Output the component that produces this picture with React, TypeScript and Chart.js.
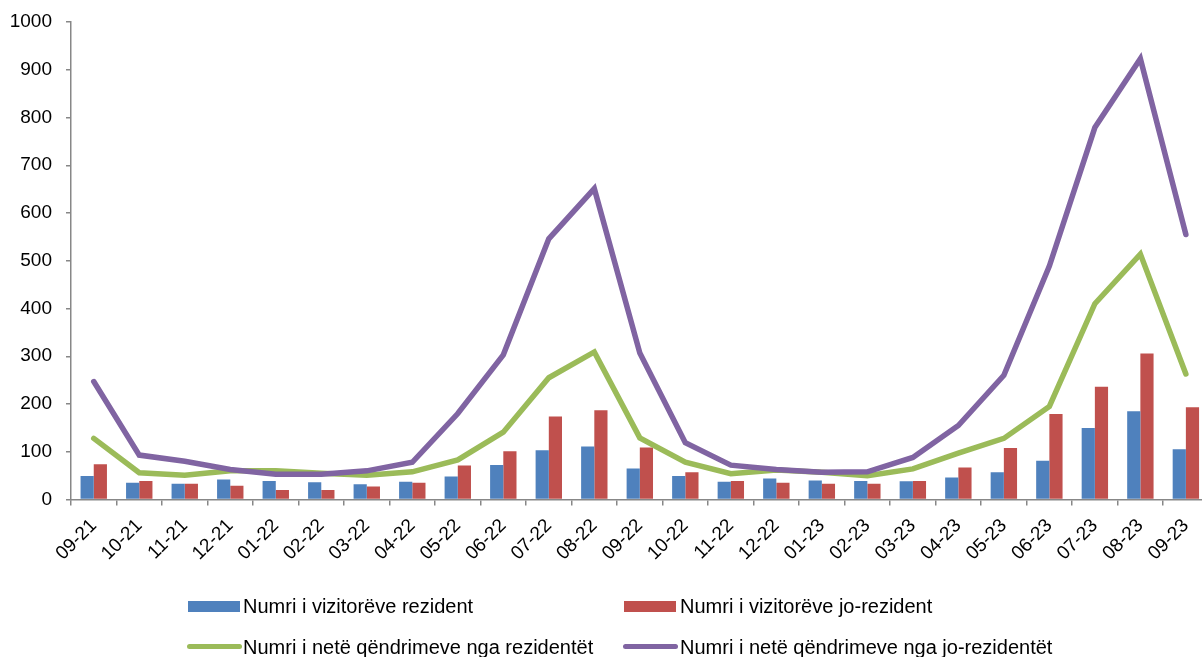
import React, { useEffect, useRef } from "react";
import { Chart, registerables } from "chart.js";

Chart.register(...registerables);

const categories = [
  "09-21", "10-21", "11-21", "12-21", "01-22", "02-22", "03-22", "04-22", "05-22",
  "06-22", "07-22", "08-22", "09-22", "10-22", "11-22", "12-22", "01-23", "02-23",
  "03-23", "04-23", "05-23", "06-23", "07-23", "08-23", "09-23",
];

const residentVisitors = [49, 35, 33, 42, 39, 36, 32, 37, 48, 72, 103, 111, 65, 49, 37, 44, 40, 39, 38, 46, 57, 81, 150, 185, 105];
const nonResidentVisitors = [74, 39, 33, 29, 20, 20, 27, 35, 71, 101, 174, 187, 109, 57, 39, 35, 33, 33, 39, 67, 108, 179, 236, 306, 193];
const residentNights = [128, 56, 51, 60, 60, 55, 51, 58, 83, 141, 255, 309, 129, 78, 54, 62, 57, 50, 64, 97, 128, 195, 410, 514, 263];
const nonResidentNights = [247, 93, 80, 63, 53, 53, 60, 78, 180, 303, 546, 651, 307, 119, 72, 63, 57, 58, 88, 155, 260, 489, 779, 923, 555];

const seriesNames = [
  "Numri i vizitorëve rezident",
  "Numri i vizitorëve jo-rezident",
  "Numri i netë qëndrimeve nga rezidentët",
  "Numri i netë qëndrimeve nga jo-rezidentët",
];

const BLUE = "#4F81BD";
const RED = "#C0504D";
const GREEN = "#9BBB59";
const PURPLE = "#8064A2";
const AXIS = "#878787";
const FONT = "'Liberation Sans', Arial, sans-serif";

export default function App() {
  const canvasRef = useRef<HTMLCanvasElement | null>(null);

  useEffect(() => {
    const canvas = canvasRef.current;
    if (!canvas) return;
    const chart = new Chart(canvas, {
      type: "bar",
      data: {
        labels: categories,
        datasets: [
          {
            type: "line",
            label: seriesNames[3],
            data: nonResidentNights,
            borderColor: PURPLE,
            backgroundColor: PURPLE,
            borderWidth: 5.5,
            pointRadius: 0,
            tension: 0,
            borderCapStyle: "round",
            order: 0,
          },
          {
            type: "line",
            label: seriesNames[2],
            data: residentNights,
            borderColor: GREEN,
            backgroundColor: GREEN,
            borderWidth: 5.5,
            pointRadius: 0,
            tension: 0,
            borderCapStyle: "round",
            order: 0,
          },
          {
            type: "bar",
            label: seriesNames[0],
            data: residentVisitors,
            backgroundColor: BLUE,
            borderWidth: 0,
            barPercentage: 1,
            categoryPercentage: 0.58,
            order: 1,
          },
          {
            type: "bar",
            label: seriesNames[1],
            data: nonResidentVisitors,
            backgroundColor: RED,
            borderWidth: 0,
            barPercentage: 1,
            categoryPercentage: 0.58,
            order: 1,
          },
        ],
      },
      options: {
        animation: false,
        responsive: true,
        maintainAspectRatio: false,
        layout: { padding: { top: 22, left: 0, right: 0, bottom: 0 } },
        plugins: {
          legend: { display: false },
          tooltip: { enabled: false },
        },
        scales: {
          x: {
            offset: true,
            grid: {
              offset: true,
              drawOnChartArea: false,
              drawTicks: true,
              tickLength: 6,
              color: AXIS,
              lineWidth: 1.5,
            },
            border: { color: AXIS, width: 1.5 },
            ticks: {
              color: "#000",
              font: { family: FONT, size: 19 },
              minRotation: 45,
              maxRotation: 45,
              autoSkip: false,
              padding: 9,
            },
            afterFit: (scale: any) => {
              scale.height = 157.5;
            },
          },
          y: {
            min: 0,
            max: 1000,
            ticks: {
              stepSize: 100,
              color: "#000",
              font: { family: FONT, size: 19 },
              padding: 14,
              callback: (value: any) => String(value),
            },
            grid: {
              drawOnChartArea: false,
              drawTicks: true,
              tickLength: 5,
              color: AXIS,
              lineWidth: 1.5,
            },
            border: { color: AXIS, width: 1.5 },
            afterFit: (scale: any) => {
              scale.width = 71;
              scale.paddingTop = 0;
              scale.paddingBottom = 0;
            },
          },
        },
      },
    });
    return () => chart.destroy();
  }, []);

  const legendText: React.CSSProperties = {
    position: "absolute",
    fontFamily: FONT,
    fontSize: 20,
    color: "#000",
    lineHeight: "22px",
    whiteSpace: "nowrap",
  };

  return (
    <div
      style={{
        position: "fixed",
        left: 0,
        top: 0,
        width: 1202,
        height: 657,
        overflow: "hidden",
        background: "#fff",
      }}
    >
      <div style={{ position: "absolute", left: 0, top: 0, width: 1211, height: 657 }}>
        <canvas ref={canvasRef} />
      </div>
      <div style={{ position: "absolute", left: 188, top: 601, width: 52, height: 11, background: BLUE }} />
      <div style={{ ...legendText, left: 243, top: 595 }}>{seriesNames[0]}</div>
      <div style={{ position: "absolute", left: 624, top: 601, width: 52, height: 11, background: RED }} />
      <div style={{ ...legendText, left: 680, top: 595 }}>{seriesNames[1]}</div>
      <div style={{ position: "absolute", left: 187, top: 644, width: 55, height: 5, borderRadius: 3, background: GREEN }} />
      <div style={{ ...legendText, left: 243, top: 636 }}>{seriesNames[2]}</div>
      <div style={{ position: "absolute", left: 623, top: 644, width: 55, height: 5, borderRadius: 3, background: PURPLE }} />
      <div style={{ ...legendText, left: 680, top: 636 }}>{seriesNames[3]}</div>
    </div>
  );
}
